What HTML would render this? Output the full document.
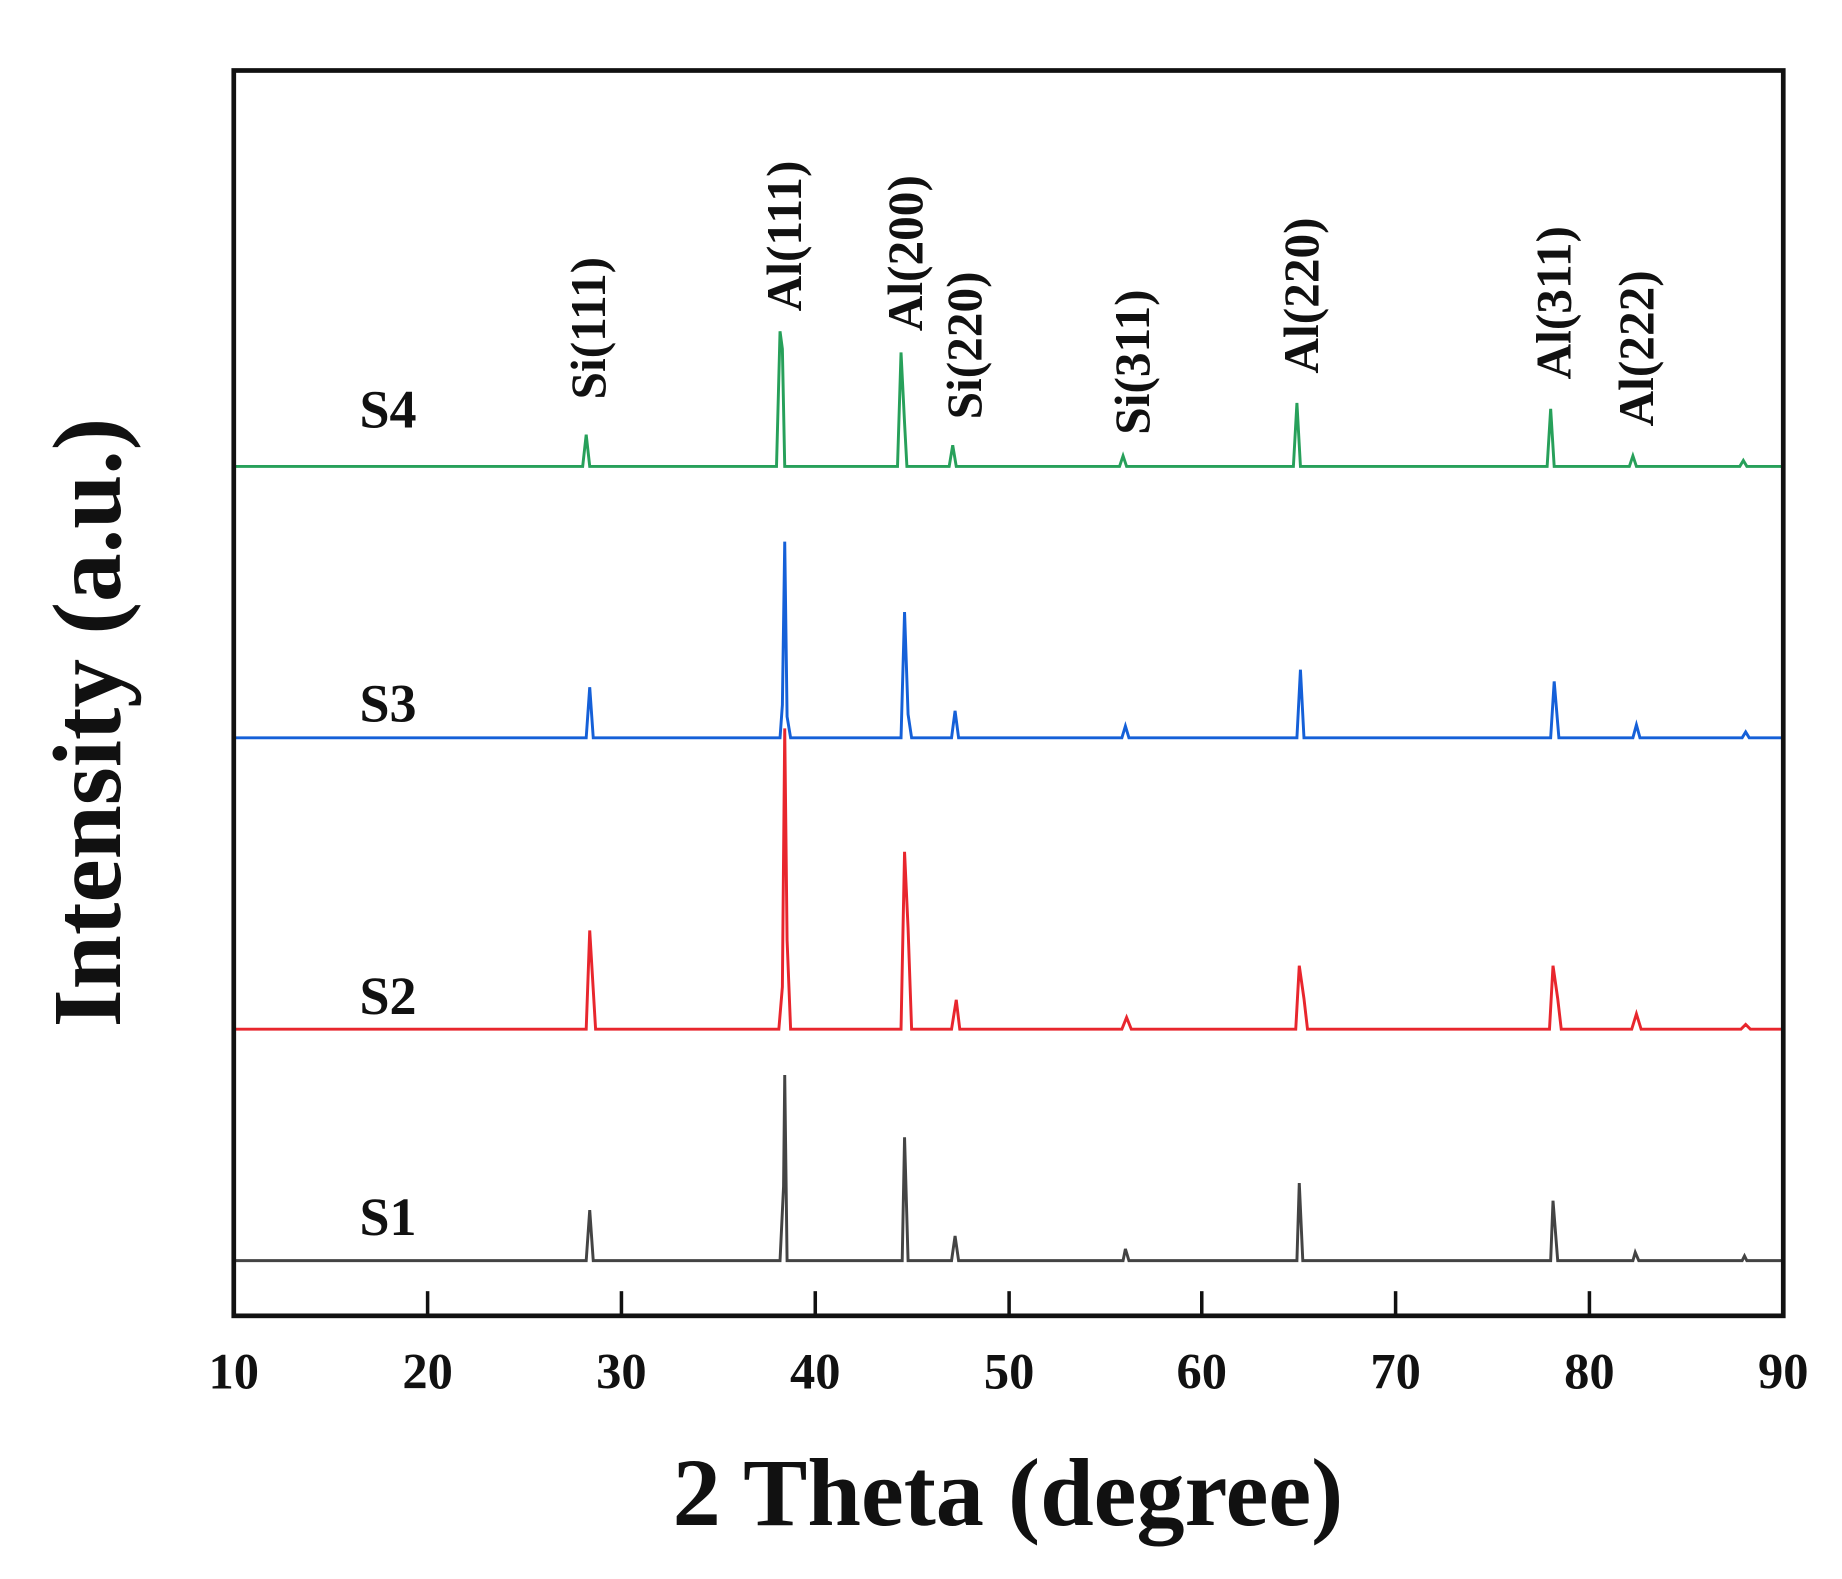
<!DOCTYPE html>
<html><head><meta charset="utf-8"><style>
html,body{margin:0;padding:0;background:#fff;}
svg{display:block;}
text{font-family:"Liberation Serif",serif;font-weight:bold;fill:#111;}
</style></head><body>
<svg width="1842" height="1579" viewBox="0 0 1568 1344" preserveAspectRatio="none" xmlns="http://www.w3.org/2000/svg">
<rect width="1568" height="1344" fill="#fff"/>
<!-- S1 -->
<path fill="none" stroke="#444" stroke-width="2.5" d="M199,1073 L499,1073 L502,1030 L505,1073 L664,1073 L667,1010 L668,915 L670,1073 L768,1073 L770,968 L773,1073 L810,1073 L813,1052 L816,1073 L956,1073 L958,1063 L961,1073 L1104,1073 L1106,1007 L1109,1073 L1320,1073 L1322,1022 L1326,1073 L1390,1073 L1392,1066 L1395,1073 L1483,1073 L1485,1069 L1487,1073 L1518,1073"/>
<!-- S2 -->
<path fill="none" stroke="#e8262d" stroke-width="2.5" d="M199,876 L499,876 L502,792 L507,876 L663,876 L666,840 L668,620 L670,800 L673,876 L767,876 L770,725 L773,790 L776,876 L810,876 L814,851 L817,876 L955,876 L959,866 L963,876 L1103,876 L1106,822 L1110,850 L1113,876 L1319,876 L1322,822 L1326,850 L1329,876 L1389,876 L1393,863 L1397,876 L1482,876 L1486,872 L1490,876 L1518,876"/>
<!-- S3 -->
<path fill="none" stroke="#1560d8" stroke-width="2.5" d="M199,628 L499,628 L502,585 L505,628 L664,628 L666,600 L668,461 L670,610 L673,628 L767,628 L770,521 L773,608 L776,628 L810,628 L813,605 L816,628 L955,628 L958,618 L961,628 L1104,628 L1107,570 L1110,628 L1320,628 L1323,580 L1327,628 L1390,628 L1393,617 L1396,628 L1483,628 L1486,623 L1489,628 L1518,628"/>
<!-- S4 -->
<path fill="none" stroke="#27a05a" stroke-width="2.5" d="M199,397 L496,397 L499,370 L502,397 L661,397 L664,282 L666,297 L668,397 L764,397 L767,300 L770,360 L772,397 L808,397 L811,379 L814,397 L953,397 L956,388 L959,397 L1101,397 L1104,343 L1107,397 L1317,397 L1320,348 L1323,397 L1387,397 L1390,388 L1393,397 L1481,397 L1484,392 L1487,397 L1518,397"/>
<rect x="199" y="60" width="1319" height="1060" fill="none" stroke="#111" stroke-width="4"/>
<g stroke="#111" stroke-width="3">
<line x1="364" y1="1120" x2="364" y2="1099"/><line x1="529" y1="1120" x2="529" y2="1099"/>
<line x1="694" y1="1120" x2="694" y2="1099"/><line x1="859" y1="1120" x2="859" y2="1099"/>
<line x1="1023" y1="1120" x2="1023" y2="1099"/><line x1="1188" y1="1120" x2="1188" y2="1099"/>
<line x1="1353" y1="1120" x2="1353" y2="1099"/>
</g>
<g font-size="43" text-anchor="middle">
<text x="199" y="1182">10</text><text x="364" y="1182">20</text><text x="529" y="1182">30</text>
<text x="694" y="1182">40</text><text x="859" y="1182">50</text><text x="1023" y="1182">60</text>
<text x="1188" y="1182">70</text><text x="1353" y="1182">80</text><text x="1518" y="1182">90</text>
</g>
<text x="858" y="1298" font-size="82" text-anchor="middle">2 Theta (degree)</text>
<text transform="translate(102,615) rotate(-90)" font-size="83" text-anchor="middle">Intensity (a.u.)</text>
<g font-size="46">
<text x="306" y="364">S4</text><text x="306" y="614">S3</text>
<text x="306" y="863">S2</text><text x="306" y="1051">S1</text>
</g>
<g font-size="42">
<text transform="translate(515,340) rotate(-90)">Si(111)</text>
<text transform="translate(682,265) rotate(-90)">Al(111)</text>
<text transform="translate(785,282) rotate(-90)">Al(200)</text>
<text transform="translate(835,357) rotate(-90)">Si(220)</text>
<text transform="translate(978,370) rotate(-90)">Si(311)</text>
<text transform="translate(1122,318) rotate(-90)">Al(220)</text>
<text transform="translate(1337,323) rotate(-90)">Al(311)</text>
<text transform="translate(1407,363) rotate(-90)">Al(222)</text>
</g>
</svg>
</body></html>
